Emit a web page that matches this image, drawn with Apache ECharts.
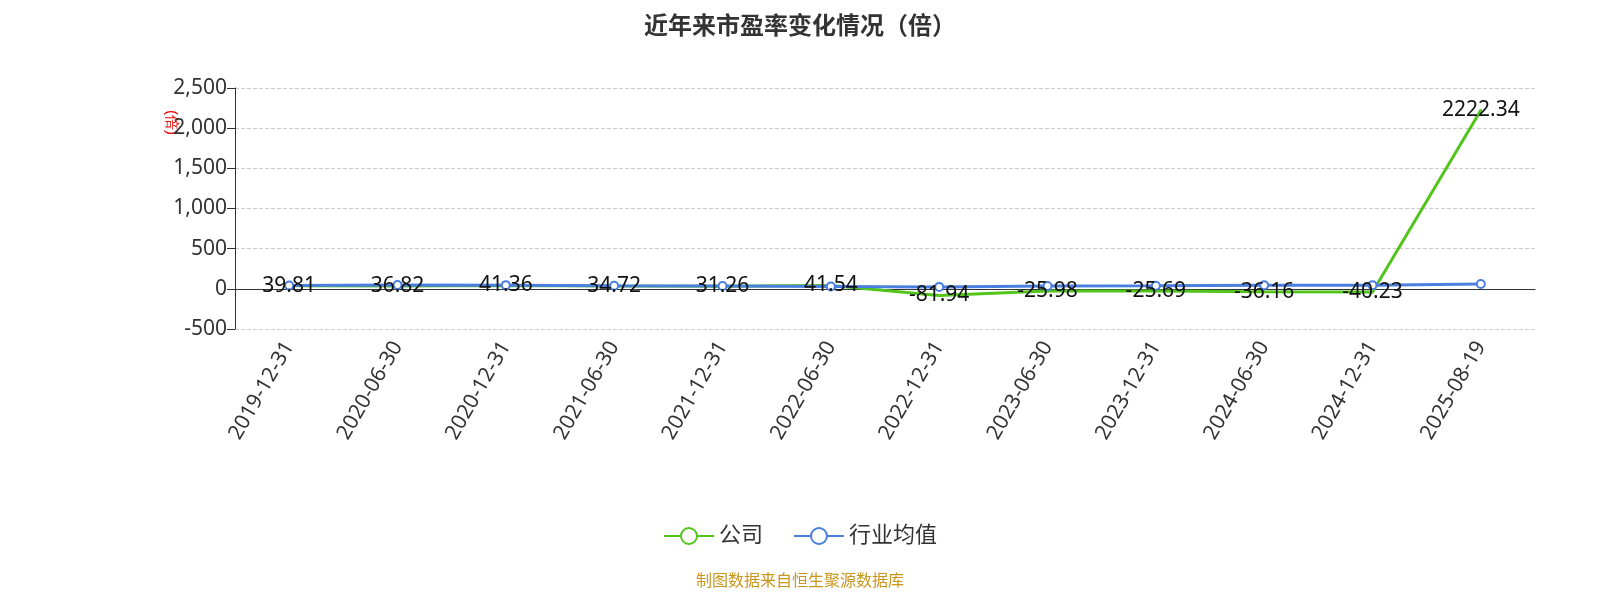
<!DOCTYPE html>
<html><head><meta charset="utf-8">
<script src="https://cdn.jsdelivr.net/npm/echarts@6/dist/echarts.min.js"></script>
<style>body{margin:0}#c{width:1600px;height:600px}</style></head>
<body><div id="c"></div>
<script>
var dates = ['2019-12-31','2020-06-30','2020-12-31','2021-06-30','2021-12-31','2022-06-30','2022-12-31','2023-06-30','2023-12-31','2024-06-30','2024-12-31','2025-08-19'];
var company = [39.81,36.82,41.36,34.72,31.26,41.54,-81.94,-25.98,-25.69,-36.16,-40.23,2222.34];
var industry = [42,48,46,38,36,30,24,34,38,44,46,60];

var chart = echarts.init(document.getElementById('c'));
chart.setOption({
  textStyle: {fontFamily: 'Noto Sans, Noto Sans CJK SC'},
  title: {text: '近年来市盈率变化情况（倍）', left: 'center', top: 8,
    textStyle: {fontSize: 24, fontWeight: 'bold', color: '#333', fontFamily: 'Noto Sans CJK SC'}},
  grid: {left: 235, right: 65, top: 88, bottom: 271},
  legend: {bottom: 48, itemWidth: 50, itemHeight: 20, itemGap: 30,
    textStyle: {fontSize: 22, color: '#333'}, data: ['公司', '行业均值']},
  graphic: [
    {type: 'text', left: 'center', bottom: 12, style: {text: '制图数据来自恒生聚源数据库', fill: '#c8961e', fontSize: 16, fontFamily: 'Noto Sans CJK SC'}},
    {type: 'text', left: 164, top: 110, rotation: -Math.PI / 2, style: {text: '(倍)', fill: '#e00', fontSize: 15}}
  ],
  xAxis: {type: 'category', data: dates, boundaryGap: true,
    axisLine: {lineStyle: {color: '#333'}}, axisTick: {length: 8, lineStyle: {color: '#333'}},
    axisLabel: {rotate: 60, fontSize: 21, color: '#333', interval: 0, margin: 14}},
  yAxis: {type: 'value', min: -500, max: 2500, interval: 500,
    axisLine: {show: true, lineStyle: {color: '#333'}}, axisTick: {show: true, length: 8},
    axisLabel: {fontSize: 21, color: '#333'},
    splitLine: {lineStyle: {type: 'dashed', color: '#ccc'}}},
  series: [
    {name: '公司', type: 'line', data: company, color: '#52c41a', showSymbol: true,
      symbol: 'circle', symbolSize: 1, lineStyle: {width: 3, color: '#52c41a'},
      itemStyle: {color: '#fff', borderColor: '#52c41a', borderWidth: 2},
      label: {show: true, position: 'inside', fontSize: 21, color: '#111'}},
    {name: '行业均值', type: 'line', data: industry, color: '#4a7fe0', symbol: 'circle', symbolSize: 8,
      itemStyle: {color: '#fff', borderColor: '#4a7fe0', borderWidth: 2}, lineStyle: {width: 3, color: '#4a7fe0'}}
  ]
});
</script></body></html>
